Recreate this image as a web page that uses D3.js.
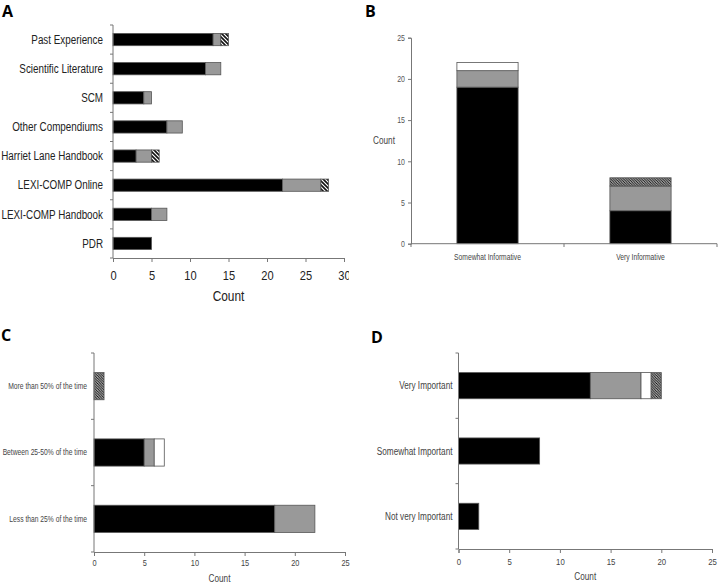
<!DOCTYPE html>
<html>
<head>
<meta charset="utf-8">
<script src="https://cdn.jsdelivr.net/npm/d3@7"></script>
<style>
  body { margin: 0; background: #fff; }
  svg text { font-family: "Liberation Sans", Arial, sans-serif; }
  .panel-label { font-family: "Open Sans", "DejaVu Sans", sans-serif !important; font-weight: 700; font-size: 16px; }
</style>
</head>
<body>
<svg id="chart" width="720" height="584"></svg>
<script>
const width = 720, height = 584;
const svg = d3.select("#chart");

// Series keys shared by all panels (black, gray, white, hatched)
const keys = ["black", "gray", "white", "hatch"];

// Panel A
const aCategories = ["Past Experience", "Scientific Literature", "SCM", "Other Compendiums",
  "Harriet Lane Handbook", "LEXI-COMP Online", "LEXI-COMP Handbook", "PDR"];
const aBlack = [13, 12, 4, 7, 3, 22, 5, 5];
const aGray  = [1, 2, 1, 2, 2, 5, 2, 0];
const aWhite = [0, 0, 0, 0, 0, 0, 0, 0];
const aHatch = [1, 0, 0, 0, 1, 1, 0, 0];
const aTicks = [0, 5, 10, 15, 20, 25, 30];

// Panel B
const bCategories = ["Somewhat Informative", "Very Informative"];
const bBlack = [19, 4];
const bGray  = [2, 3];
const bWhite = [1, 0];
const bHatch = [0, 1];
const bTicks = [0, 5, 10, 15, 20, 25];

// Panel C
const cCategories = ["More than 50% of the time", "Between 25-50% of the time", "Less than 25% of the time"];
const cBlack = [0, 5, 18];
const cGray  = [0, 1, 4];
const cWhite = [0, 1, 0];
const cHatch = [1, 0, 0];
const cTicks = [0, 5, 10, 15, 20, 25];

// Panel D
const dCategories = ["Very Important", "Somewhat Important", "Not very Important"];
const dBlack = [13, 8, 2];
const dGray  = [5, 0, 0];
const dWhite = [1, 0, 0];
const dHatch = [1, 0, 0];
const dTicks = [0, 5, 10, 15, 20, 25];

const axisColor = "#777";
const barStroke = "#555";
const narrow = 0.82; // the original uses a narrow sans face

// hatch patterns: coarse for A, fine for the others
const defs = svg.append("defs");
function hatch(id, size, sw) {
  defs.append("pattern").attr("id", id).attr("patternUnits", "userSpaceOnUse")
    .attr("width", size).attr("height", size)
    .call(p => p.append("rect").attr("width", size).attr("height", size).attr("fill", "#fff"))
    .append("path")
    .attr("d", `M${-size},0 L${size},${2 * size} M0,${-size} L${2 * size},${size} M${-size / 2},${-size / 2} L${size * 1.5},${size * 1.5}`)
    .attr("stroke", "#111").attr("stroke-width", sw);
}
hatch("hatchA", 4, 1.6);
hatch("hatchB", 2.6, 1.1);

function fills(hatchId) {
  return { black: "#000", gray: "#999", white: "#fff", hatch: `url(#${hatchId})` };
}

function toRows(cats, black, gray, white, hatchV) {
  return cats.map((c, i) => ({ cat: c, black: black[i], gray: gray[i], white: white[i], hatch: hatchV[i] }));
}

// Horizontal stacked bar panel
function drawHorizontal(o) {
  const g = svg.append("g");
  const rows = toRows(o.cats, o.black, o.gray, o.white, o.hatch);
  const stack = d3.stack().keys(keys)(rows);
  const x = d3.scaleLinear().domain([0, d3.max(o.ticks)]).range([o.x0, o.x1]);
  const y = d3.scaleBand().domain(o.cats).range([o.y0, o.y1]).paddingInner(o.pad).paddingOuter(o.pad / 2);
  const f = fills(o.hatchId);

  stack.forEach(layer => {
    g.append("g").selectAll("rect")
      .data(layer.filter(d => d[1] > d[0]))
      .join("rect")
      .attr("x", d => x(d[0]))
      .attr("y", d => y(d.data.cat))
      .attr("width", d => x(d[1]) - x(d[0]))
      .attr("height", y.bandwidth())
      .attr("fill", f[layer.key])
      .attr("stroke", barStroke).attr("stroke-width", 0.8);
  });

  // y axis with ticks at band boundaries
  const step = y.step();
  g.append("line").attr("x1", o.x0).attr("x2", o.x0).attr("y1", o.y0).attr("y2", o.y1)
    .attr("stroke", axisColor);
  d3.range(o.cats.length + 1).forEach(i => {
    const yy = o.y0 + i * step;
    g.append("line").attr("x1", o.x0 - 3).attr("x2", o.x0).attr("y1", yy).attr("y2", yy).attr("stroke", axisColor);
  });
  g.selectAll("text.cat").data(o.cats).join("text")
    .attr("class", "cat")
    .attr("x", o.x0 - o.labelGap)
    .attr("y", d => y(d) + y.bandwidth() / 2)
    .attr("dy", "0.35em")
    .attr("text-anchor", "end")
    .attr("font-size", o.catSize)
    .attr("fill", o.textColor)
    .text(d => d);

  // x axis
  const xAxis = d3.axisBottom(x).tickValues(o.ticks).tickSize(4).tickPadding(o.tickPad);
  const ax = g.append("g").attr("transform", `translate(0,${o.y1})`).call(xAxis);
  ax.select(".domain").attr("stroke", axisColor);
  ax.selectAll(".tick line").attr("stroke", axisColor);
  ax.selectAll(".tick text").attr("font-size", o.tickSize).attr("fill", o.textColor);
  ax.attr("font-family", null);

  g.append("text").attr("x", (o.x0 + o.x1) / 2).attr("y", o.titleY)
    .attr("text-anchor", "middle").attr("font-size", o.titleSize).attr("fill", o.textColor)
    .text("Count");
  return g;
}

// Panel A (clipped on the right like the reference)
svg.append("clipPath").attr("id", "clipA").append("rect").attr("width", 349).attr("height", 310);
const gA = drawHorizontal({
  cats: aCategories, black: aBlack, gray: aGray, white: aWhite, hatch: aHatch, ticks: aTicks,
  x0: 113, x1: 344, y0: 25, y1: 258, pad: 0.58, hatchId: "hatchA",
  labelGap: 10, catSize: 12, tickSize: 13.5, tickPad: 8, titleY: 301, titleSize: 14.5, textColor: "#222"
});
gA.attr("clip-path", "url(#clipA)");

drawHorizontal({
  cats: cCategories, black: cBlack, gray: cGray, white: cWhite, hatch: cHatch, ticks: cTicks,
  x0: 94, x1: 345, y0: 353, y1: 552, pad: 0.59, hatchId: "hatchB",
  labelGap: 7, catSize: 8.2, tickSize: 9, tickPad: 4, titleY: 582, titleSize: 10, textColor: "#444"
});

drawHorizontal({
  cats: dCategories, black: dBlack, gray: dGray, white: dWhite, hatch: dHatch, ticks: dTicks,
  x0: 458.5, x1: 712, y0: 353, y1: 549, pad: 0.6, hatchId: "hatchB",
  labelGap: 6, catSize: 10, tickSize: 9.5, tickPad: 5, titleY: 580, titleSize: 10, textColor: "#444"
});

// Panel B: vertical stacked bars
(function () {
  const g = svg.append("g");
  const rows = toRows(bCategories, bBlack, bGray, bWhite, bHatch);
  const stack = d3.stack().keys(keys)(rows);
  const x = d3.scaleBand().domain(bCategories).range([411, 717]).paddingInner(0.6).paddingOuter(0.3);
  const y = d3.scaleLinear().domain([0, 25]).range([243.7, 37.7]);
  const f = fills("hatchB");

  stack.forEach(layer => {
    g.append("g").selectAll("rect")
      .data(layer.filter(d => d[1] > d[0]))
      .join("rect")
      .attr("x", d => x(d.data.cat))
      .attr("y", d => y(d[1]))
      .attr("width", x.bandwidth())
      .attr("height", d => y(d[0]) - y(d[1]))
      .attr("fill", f[layer.key])
      .attr("stroke", barStroke).attr("stroke-width", 0.8);
  });

  const yAxis = d3.axisLeft(y).tickValues(bTicks).tickSize(3).tickPadding(3);
  const ay = g.append("g").attr("transform", "translate(411,0)").call(yAxis);
  ay.select(".domain").attr("stroke", axisColor);
  ay.selectAll(".tick line").attr("stroke", axisColor);
  ay.selectAll(".tick text").attr("font-size", 8.5).attr("fill", "#555");
  ay.attr("font-family", null);

  g.append("line").attr("x1", 411).attr("x2", 717).attr("y1", 243.7).attr("y2", 243.7).attr("stroke", axisColor);
  d3.range(bCategories.length + 1).forEach(i => {
    const xx = 411 + i * x.step();
    g.append("line").attr("x1", xx).attr("x2", xx).attr("y1", 243.7).attr("y2", 247).attr("stroke", axisColor);
  });
  g.selectAll("text.cat").data(bCategories).join("text")
    .attr("x", d => x(d) + x.bandwidth() / 2).attr("y", 260)
    .attr("text-anchor", "middle").attr("font-size", 8.2).attr("fill", "#444")
    .text(d => d);

  g.append("text").attr("x", 384).attr("y", 144).attr("text-anchor", "middle")
    .attr("font-size", 10).attr("fill", "#444").text("Count");
})();

// Condense the plain texts to mimic the narrow face
svg.selectAll("text").each(function () {
  const w = this.getComputedTextLength();
  d3.select(this).attr("textLength", w * narrow).attr("lengthAdjust", "spacingAndGlyphs");
});

// Panel letters
[["A", 2, 17], ["B", 365, 17], ["C", 1, 341], ["D", 371, 343]].forEach(([t, x, y]) => {
  svg.append("text").attr("class", "panel-label").attr("x", x).attr("y", y).text(t);
});
</script>
</body>
</html>
